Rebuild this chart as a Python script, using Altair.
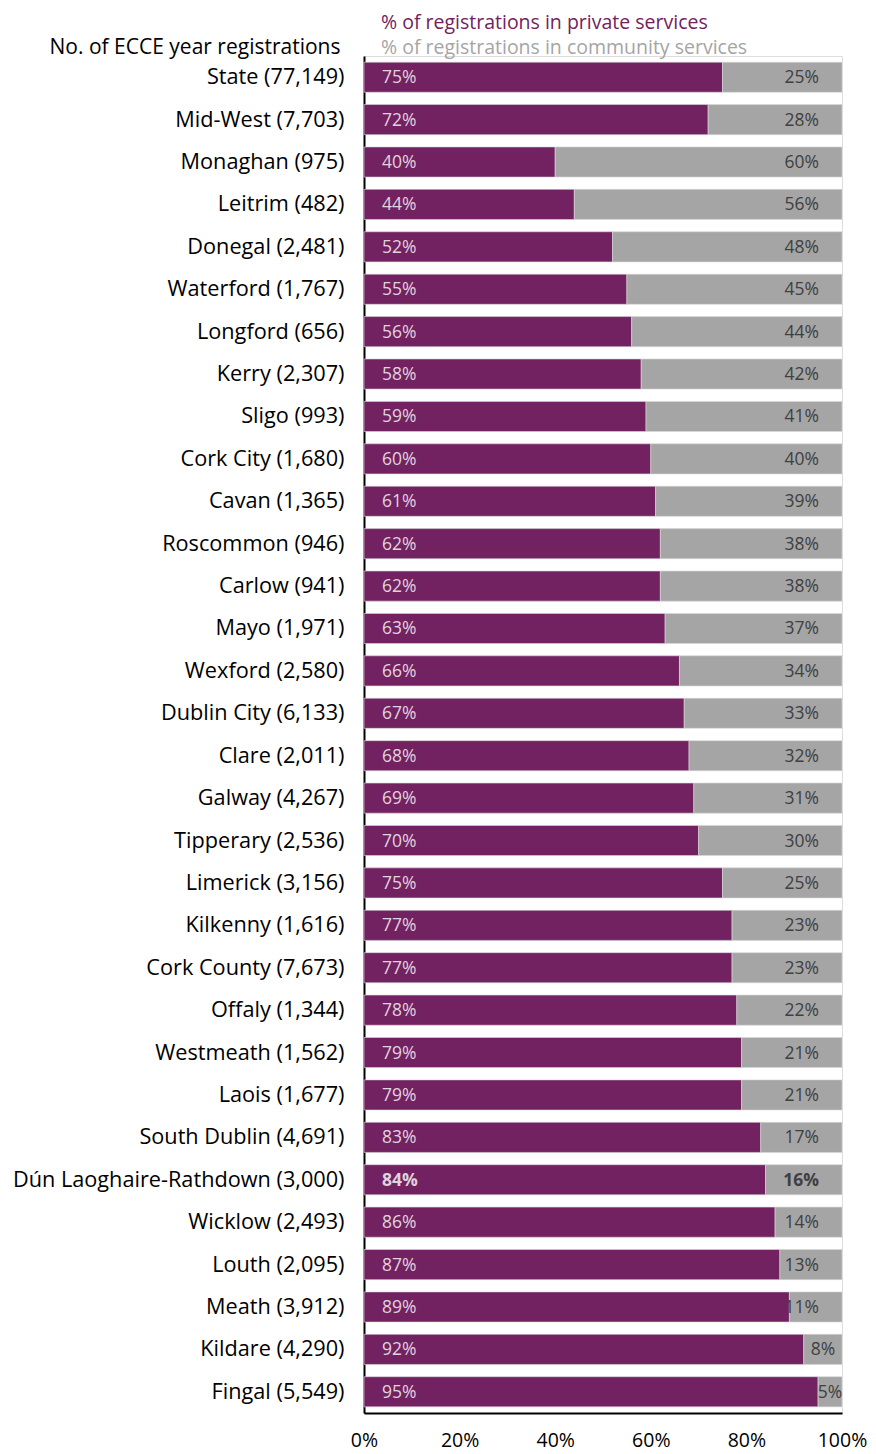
import altair as alt
import pandas as pd

areas = ["State", "Mid-West", "Monaghan", "Leitrim", "Donegal", "Waterford", "Longford",
         "Kerry", "Sligo", "Cork City", "Cavan", "Roscommon", "Carlow", "Mayo", "Wexford",
         "Dublin City", "Clare", "Galway", "Tipperary", "Limerick", "Kilkenny", "Cork County",
         "Offaly", "Westmeath", "Laois", "South Dublin", "Dún Laoghaire-Rathdown", "Wicklow",
         "Louth", "Meath", "Kildare", "Fingal"]
registrations = ["77,149", "7,703", "975", "482", "2,481", "1,767", "656", "2,307", "993",
                 "1,680", "1,365", "946", "941", "1,971", "2,580", "6,133", "2,011", "4,267",
                 "2,536", "3,156", "1,616", "7,673", "1,344", "1,562", "1,677", "4,691",
                 "3,000", "2,493", "2,095", "3,912", "4,290", "5,549"]
private_pct = [75, 72, 40, 44, 52, 55, 56, 58, 59, 60, 61, 62, 62, 63, 66, 67, 68, 69, 70,
               75, 77, 77, 78, 79, 79, 83, 84, 86, 87, 89, 92, 95]
community_pct = [25, 28, 60, 56, 48, 45, 44, 42, 41, 40, 39, 38, 38, 37, 34, 33, 32, 31, 30,
                 25, 23, 23, 22, 21, 21, 17, 16, 14, 13, 11, 8, 5]
highlight = "Dún Laoghaire-Rathdown"
legend_labels = ["% of registrations in private services",
                 "% of registrations in community services"]
axis_title = "No. of ECCE year registrations"
x_ticks = [0, 0.2, 0.4, 0.6, 0.8, 1.0]

PURPLE = "#722161"
GREY = "#A5A5A5"
FONT = "Open Sans"

labels = [f"{a} ({r})" for a, r in zip(areas, registrations)]
rows = []
for lab, a, p, c in zip(labels, areas, private_pct, community_pct):
    bold = a == highlight
    rows.append({"label": lab, "series": "private", "order": 0, "value": p / 100,
                 "pct": f"{p}%", "bold": bold})
    rows.append({"label": lab, "series": "community", "order": 1, "value": c / 100,
                 "pct": f"{c}%", "bold": bold})
df = pd.DataFrame(rows)

y_enc = alt.Y("label:N", sort=labels,
              axis=alt.Axis(title=axis_title, titleAngle=0,
                            titleAlign="right", titleBaseline="alphabetic",
                            titleX=-24, titleY=-3, titleFont=FONT, titleFontSize=21,
                            titleFontWeight="normal", titleColor="#000000",
                            labelFont=FONT, labelFontSize=21.7, labelColor="#000000",
                            labelPadding=20, labelLimit=500, ticks=False,
                            domainColor="#000000", domainWidth=2),
              scale=alt.Scale(paddingInner=0.29, paddingOuter=0.145))

bars = alt.Chart(df).mark_bar(stroke="#D9D9D9", strokeWidth=0.6).encode(
    x=alt.X("value:Q", stack="zero",
            scale=alt.Scale(domain=[0, 1], nice=False),
            axis=alt.Axis(values=x_ticks, format=".0%", title=None,
                          labelFont=FONT, labelFontSize=19.5, labelColor="#000000",
                          labelPadding=18, ticks=False, grid=False, domainColor="#000000",
                          domainWidth=2, labelFlush=False, labelOverlap=False)),
    y=y_enc,
    color=alt.Color("series:N", scale=alt.Scale(domain=["private", "community"],
                                                range=[PURPLE, GREY]), legend=None),
    order=alt.Order("order:Q"),
)


def label_layer(series, bold, color, narrow=None):
    base = alt.Chart(df).transform_filter(
        (alt.datum.series == series) & (alt.datum.bold == bold)
    )
    weight = "bold" if bold else "normal"
    if series == "private":
        return base.mark_text(align="left", baseline="middle", dx=18, dy=1, font=FONT,
                              fontSize=17.5, color=color, fontWeight=weight).encode(
            x=alt.datum(0), y=alt.Y("label:N", sort=labels), text="pct:N")
    if narrow:
        return base.transform_filter(alt.datum.value < 0.1).transform_calculate(
            mid="1 - datum.value / 2"
        ).mark_text(align="center", baseline="middle", dy=1, font=FONT, fontSize=17.5,
                    color=color, fontWeight=weight).encode(
            x=alt.X("mid:Q"), y=alt.Y("label:N", sort=labels), text="pct:N")
    return base.transform_filter(alt.datum.value >= 0.1).mark_text(
        align="right", baseline="middle", dx=-23, dy=1, font=FONT, fontSize=17.5,
        color=color, fontWeight=weight).encode(
        x=alt.datum(1), y=alt.Y("label:N", sort=labels), text="pct:N")


layers = [bars]
for b in (False, True):
    layers.append(label_layer("private", b, "#E0D3DD"))
    layers.append(label_layer("community", b, "#404040"))
layers.append(label_layer("community", False, "#404040", narrow=True))

legend_df = pd.DataFrame({"text": legend_labels, "color": [PURPLE, GREY]})
legend1 = alt.Chart(legend_df).transform_filter(alt.datum.color == PURPLE).mark_text(
    align="left", baseline="alphabetic", font=FONT, fontSize=19.5, color=PURPLE
).encode(x=alt.value(17), y=alt.value(-27), text="text:N")
legend2 = alt.Chart(legend_df).transform_filter(alt.datum.color == GREY).mark_text(
    align="left", baseline="alphabetic", font=FONT, fontSize=19.5, color=GREY
).encode(x=alt.value(17), y=alt.value(-2), text="text:N")
layers += [legend1, legend2]

chart = alt.layer(*layers).properties(
    width=478,
    height=1357,
    autosize=alt.AutoSizeParams(type="none"),
    padding={"left": 356, "top": 48, "right": 26, "bottom": 40},
).configure_view(stroke=None).configure(background="#FFFFFF")

chart.save("out.html", embed_options={"renderer": "svg", "actions": False})
